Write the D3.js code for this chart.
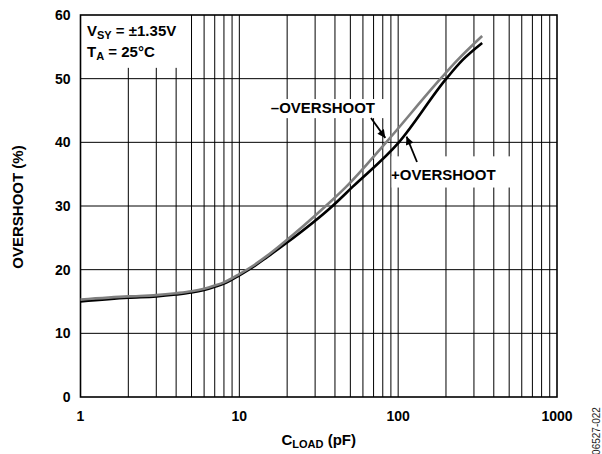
<!DOCTYPE html>
<html>
<head>
<meta charset="utf-8">
<script src="https://cdn.jsdelivr.net/npm/d3@7"></script>
<style>
  body { margin: 0; background: #fff; }
  svg text { font-family: "Liberation Sans", Arial, Helvetica, sans-serif; }
</style>
</head>
<body>
<svg id="chart" width="602" height="454"></svg>
<script>
// values (C_LOAD in pF, overshoot in %)
var capNeg = [1, 2, 3, 4, 5, 6, 7, 8, 10, 12, 15, 18.7, 35, 47, 84, 185, 236, 338];
var ovNeg  = [15.3, 15.8, 16.0, 16.3, 16.6, 17.0, 17.5, 18.0, 19.3, 20.5, 22.2, 24.1, 30, 33, 40, 50, 52.9, 56.7];

var capPos = [1, 2, 3, 4, 5, 6, 7, 8, 10, 12, 15, 19.6, 38.6, 51.6, 101, 201, 254, 338];
var ovPos  = [15.0, 15.6, 15.8, 16.1, 16.4, 16.8, 17.3, 17.8, 19.1, 20.3, 22.0, 24.1, 30, 33, 40, 50, 52.9, 55.6];

var xTicks = [1, 10, 100, 1000];
var yTicks = [0, 10, 20, 30, 40, 50, 60];

var svg = d3.select('#chart');

var pLeft = 80.5, pRight = 557, pTop = 15, pBottom = 397;

var x = d3.scaleLog().domain([1, 1000]).range([pLeft, pRight]);
var y = d3.scaleLinear().domain([0, 60]).range([pBottom, pTop]);

// minor + major vertical grid: 1..9 per decade
var vGrid = [];
[1, 10, 100].forEach(function(dec) {
    for (var k = 1; k <= 9; k++) { if (dec * k > 1) vGrid.push(dec * k); }
});

svg.append('g').selectAll('line')
    .data(vGrid)
    .enter().append('line')
    .attr('x1', function(d) { return x(d); })
    .attr('x2', function(d) { return x(d); })
    .attr('y1', pTop).attr('y2', pBottom)
    .attr('stroke', '#000').attr('stroke-width', 1);

svg.append('g').selectAll('line')
    .data(yTicks.slice(1, -1))
    .enter().append('line')
    .attr('x1', pLeft).attr('x2', pRight)
    .attr('y1', function(d) { return y(d); })
    .attr('y2', function(d) { return y(d); })
    .attr('stroke', '#000').attr('stroke-width', 1);

// white patches behind the annotations
var boxes = [
    {x0: 1.02, x1: 4.6, y0: 60, y1: 51.7},
    {x0: 12.8, x1: 82, y0: 46.8, y1: 43.8},
    {x0: 91, x1: 510, y0: 37.8, y1: 32.9}
];
svg.append('g').selectAll('rect')
    .data(boxes)
    .enter().append('rect')
    .attr('x', function(d) { return x(d.x0); })
    .attr('width', function(d) { return x(d.x1) - x(d.x0); })
    .attr('y', function(d) { return y(d.y0); })
    .attr('height', function(d) { return y(d.y1) - y(d.y0); })
    .attr('fill', '#fff');

// frame
svg.append('rect')
    .attr('x', pLeft).attr('y', pTop)
    .attr('width', pRight - pLeft).attr('height', pBottom - pTop)
    .attr('fill', 'none').attr('stroke', '#000').attr('stroke-width', 1.6);

// tick labels
svg.append('g').selectAll('text')
    .data(yTicks)
    .enter().append('text')
    .attr('x', pLeft - 10)
    .attr('y', function(d) { return y(d); })
    .attr('dy', '0.36em')
    .attr('text-anchor', 'end')
    .attr('font-size', 14).attr('font-weight', 'bold')
    .text(function(d) { return d; });

svg.append('g').selectAll('text')
    .data(xTicks)
    .enter().append('text')
    .attr('x', function(d) { return x(d); })
    .attr('y', 421)
    .attr('text-anchor', 'middle')
    .attr('font-size', 14).attr('font-weight', 'bold')
    .text(function(d) { return d; });

// axis titles
var xt = svg.append('text')
    .attr('x', (pLeft + pRight) / 2).attr('y', 445)
    .attr('text-anchor', 'middle')
    .attr('font-size', 15).attr('font-weight', 'bold');
xt.append('tspan').text('C');
xt.append('tspan').attr('font-size', 11).attr('dy', 3).text('LOAD');
xt.append('tspan').attr('dy', -3).text(' (pF)');

svg.append('text')
    .attr('transform', 'translate(23,207) rotate(-90)')
    .attr('text-anchor', 'middle')
    .attr('font-size', 15).attr('font-weight', 'bold')
    .text('OVERSHOOT (%)');

svg.append('text')
    .attr('transform', 'translate(600,431) rotate(-90)')
    .attr('text-anchor', 'middle')
    .attr('font-size', 10)
    .attr('fill', '#222')
    .text('06527-022');

// conditions
var t1 = svg.append('text').attr('x', 87).attr('y', 36)
    .attr('font-size', 15).attr('font-weight', 'bold');
t1.append('tspan').text('V');
t1.append('tspan').attr('font-size', 11).attr('dy', 3).text('SY');
t1.append('tspan').attr('dy', -3).text(' = \u00b11.35V');

var t2 = svg.append('text').attr('x', 87).attr('y', 57)
    .attr('font-size', 15).attr('font-weight', 'bold');
t2.append('tspan').text('T');
t2.append('tspan').attr('font-size', 11).attr('dy', 3).text('A');
t2.append('tspan').attr('dy', -3).text(' = 25\u00b0C');

// curves
var line = d3.line()
    .x(function(d) { return x(d[0]); })
    .y(function(d) { return y(d[1]); })
    .curve(d3.curveMonotoneX);

svg.append('path')
    .datum(d3.zip(capPos, ovPos))
    .attr('d', line)
    .attr('fill', 'none').attr('stroke', '#000').attr('stroke-width', 2.6);

svg.append('path')
    .datum(d3.zip(capNeg, ovNeg))
    .attr('d', line)
    .attr('fill', 'none').attr('stroke', '#7f7f7f').attr('stroke-width', 2.6);

// labels + arrows
svg.append('text')
    .attr('x', 375).attr('y', 113)
    .attr('text-anchor', 'end')
    .attr('font-size', 15).attr('font-weight', 'bold')
    .text('\u2013OVERSHOOT');

svg.append('text')
    .attr('x', 391).attr('y', 180)
    .attr('font-size', 15).attr('font-weight', 'bold')
    .text('+OVERSHOOT');

svg.append('defs').append('marker')
    .attr('id', 'arr')
    .attr('viewBox', '0 0 10 10')
    .attr('refX', 10).attr('refY', 5)
    .attr('markerWidth', 10).attr('markerHeight', 8)
    .attr('markerUnits', 'userSpaceOnUse')
    .attr('orient', 'auto')
    .append('path').attr('d', 'M0,0 L10,5 L0,10 Z').attr('fill', '#000');

var arrows = [
    {from: [371, 118], to: [x(83), y(40.7)]},
    {from: [417, 162], to: [x(113), y(40.9)]}
];
svg.append('g').selectAll('line')
    .data(arrows)
    .enter().append('line')
    .attr('x1', function(d) { return d.from[0]; })
    .attr('y1', function(d) { return d.from[1]; })
    .attr('x2', function(d) { return d.to[0]; })
    .attr('y2', function(d) { return d.to[1]; })
    .attr('stroke', '#000').attr('stroke-width', 1.8)
    .attr('marker-end', 'url(#arr)');
</script>
</body>
</html>
